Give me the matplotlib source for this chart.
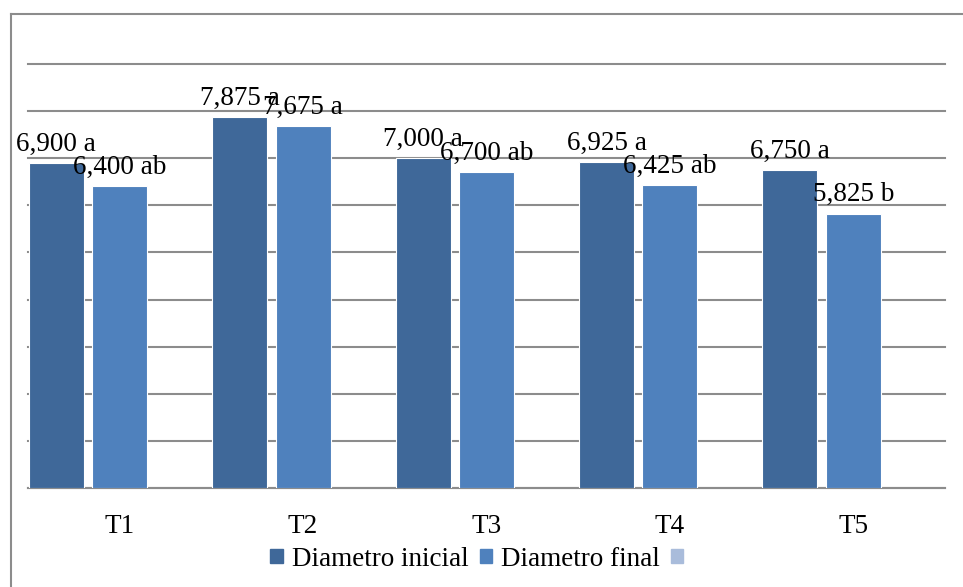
import matplotlib.pyplot as plt
import numpy as np

tratamientos = ['T1', 'T2', 'T3', 'T4', 'T5']
diam_inicial = [6.900, 7.875, 7.000, 6.925, 6.750]
diam_final = [6.400, 7.675, 6.700, 6.425, 5.825]
letras_inicial = ['a', 'a', 'a', 'a', 'a']
letras_final = ['ab', 'a', 'ab', 'ab', 'b']
serie3 = [0, 0, 0, 0, 0]

c_ini = '#3F6899'
c_fin = '#4F81BD'
c_3 = '#A9BCDB'

plt.rcParams['font.family'] = ['Liberation Serif', 'DejaVu Serif']
fs = 19.5

fig = plt.figure(figsize=(9.63, 5.87), dpi=100)
ax = fig.add_axes([28/963, 1-488/587, (945-28)/963, (488-64)/587])

x = np.arange(len(tratamientos))
w = 0.30
off = 0.346
ax.bar(x - off, diam_inicial, w, color=c_ini, edgecolor='white', linewidth=0.8, zorder=3)
ax.bar(x, diam_final, w, color=c_fin, edgecolor='white', linewidth=0.8, zorder=3)
ax.bar(x + off, serie3, w, color=c_3, zorder=3)

def fmt(v):
    return ('%.3f' % v).replace('.', ',')

for i in range(len(x)):
    ax.annotate(fmt(diam_inicial[i]) + ' ' + letras_inicial[i], (x[i] - off, diam_inicial[i]),
                xytext=(0, 4.5), textcoords='offset points', ha='center', va='bottom',
                fontsize=fs, zorder=5)
    ax.annotate(fmt(diam_final[i]) + ' ' + letras_final[i], (x[i], diam_final[i]),
                xytext=(0, 4.5), textcoords='offset points', ha='center', va='bottom',
                fontsize=fs, zorder=5)

ax.set_xlim(-0.5, 4.5)
ax.set_ylim(0, 9)
ax.set_yticks(np.arange(0, 10, 1))
ax.yaxis.grid(True, color='#8c8c8c', linewidth=1.5, zorder=0)
for gl in ax.get_ygridlines():
    gl.set_clip_on(False)
ax.set_yticklabels([])
ax.tick_params(axis='y', length=0)
ax.tick_params(axis='x', length=0, pad=19, labelsize=fs)
ax.set_xticks(x)
ax.set_xticklabels(tratamientos)
for s in ['top', 'right', 'left']:
    ax.spines[s].set_visible(False)
ax.spines['bottom'].set_color('#8c8c8c')
ax.spines['bottom'].set_linewidth(1.5)

# marco exterior
fig.add_artist(plt.Line2D([10.5/963, 10.5/963], [0, 1-13.5/587], color='#8c8c8c', linewidth=1.5))
fig.add_artist(plt.Line2D([10.5/963, 1], [1-13.5/587, 1-13.5/587], color='#8c8c8c', linewidth=1.5))

handles = [plt.Rectangle((0, 0), 1, 1, color=c_ini),
           plt.Rectangle((0, 0), 1, 1, color=c_fin),
           plt.Rectangle((0, 0), 1, 1, color=c_3)]
fig.legend(handles, ['Diametro inicial', 'Diametro final', ''], loc='center',
           bbox_to_anchor=(0.5, 1-559/587), ncol=3, frameon=False, fontsize=fs,
           handlelength=0.45, handleheight=0.45, handletextpad=0.35, columnspacing=0.4,
           borderpad=0, borderaxespad=0)

fig.savefig('out.png', dpi=100)
